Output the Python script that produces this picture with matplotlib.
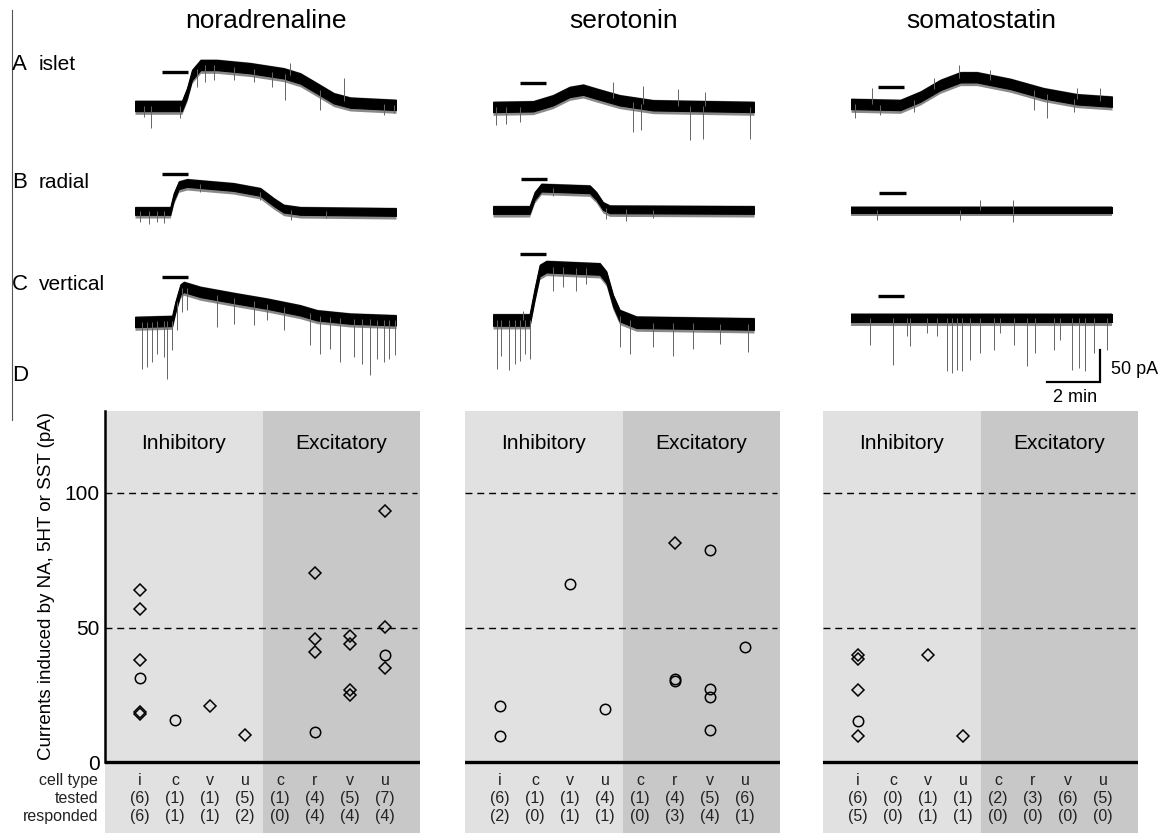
import numpy as np
import matplotlib
matplotlib.use("Agg")
import matplotlib.pyplot as plt

plt.rcParams['font.family'] = ['Liberation Sans', 'DejaVu Sans']

# ---------------- data: traces (time in min, current in pA) ----------------
drugs = ["noradrenaline", "serotonin", "somatostatin"]
rows = ["islet", "radial", "vertical"]
row_letters = ["A", "B", "C"]

na_islet_t = [0, 1.77, 1.96, 2.15, 2.47, 3.09, 4.35, 5.61, 6.24, 6.87, 7.50, 8.12, 9.85]
na_islet_i = [0, 0, 19.8, 48.4, 64, 64, 59, 51, 43, 27.6, 12, 5.2, 1.6]
na_islet_bar = [1.02, 1.99, 53.6]
na_islet_spk_t = [0.60, 0.33, 1.71, 2.34, 2.65, 2.97, 3.72, 4.48, 5.17, 5.67, 6.99, 7.87, 5.86, 9.38, 9.76]
na_islet_spk_i = [-33.9, -16.7, -19.3, 30.2, 38, 40.6, 40.6, 38, 30.2, 9.4, -6.3, 43.2, 66.7, -14, -11.5]

na_radial_t = [0, 1.33, 1.46, 1.65, 1.96, 3.72, 4.73, 5.23, 5.61, 6.24, 9.85]
na_radial_i = [1.6, 1.6, 23.4, 41.7, 45.3, 39, 31.3, 15.6, 5.2, 1.6, 0]
na_radial_bar = [1.02, 1.99, 58.9]
na_radial_spk_t = [0.20, 0.52, 0.83, 1.08, 2.47, 4.73, 5.90, 7.20]
na_radial_spk_i = [-15.6, -18.2, -15.6, -17.2, 31, 18, -12, -10]

na_vert_t = [0, 1.40, 1.52, 1.71, 1.84, 2.47, 3.72, 4.98, 6.23, 6.87, 8.12, 9.85]
na_vert_i = [0, 1.6, 23.4, 50.5, 54.7, 46.9, 37.5, 28.6, 18.2, 10.4, 5.2, 2.6]
na_vert_bar = [1.02, 1.99, 70.3]
na_vert_spk_t = [0.26, 0.45, 0.64, 0.83, 1.08, 1.21, 1.40, 1.58, 1.77, 1.96, 3.09, 3.72,
                 4.48, 4.98, 5.61, 6.62, 6.99, 7.37, 7.75, 8.25, 8.57, 8.88, 9.13, 9.38, 9.57, 9.82]
na_vert_spk_i = [-72.9, -70.3, -62.5, -49.5, -54.7, -88.5, -44.3, -13, 15.6, 18.2, -7.8, -2.6,
                 -5.2, 2.6, -13, -36.5, -49.5, -41.7, -62.5, -54.7, -65, -83.3, -57.3, -62.5, -57.3, -52]

ht_islet_t = [0, 1.51, 2.26, 2.89, 3.40, 3.90, 4.78, 6.04, 9.85]
ht_islet_i = [0, 1, 10.4, 23.4, 27, 20.8, 10.4, 2.6, 0]
ht_islet_bar = [1.01, 2.01, 38]
ht_islet_spk_t = [0.13, 0.50, 1.01, 5.28, 5.60, 7.42, 7.92, 9.69, 4.53, 5.66, 6.98, 7.99]
ht_islet_spk_i = [-28.6, -26, -23.4, -39, -36.5, -51, -49.5, -49.5, 39, 32.3, 28.6, 23.4]

ht_radial_t = [0, 1.38, 1.57, 1.82, 3.65, 3.90, 4.15, 4.40, 9.85]
ht_radial_i = [0, 0, 21.9, 34.9, 32.3, 21.9, 6.25, 1, 0]
ht_radial_bar = [1.07, 2.05, 47.9]
ht_radial_spk_t = [4.28, 5.03, 2.26, 6.04]
ht_radial_spk_i = [-14.6, -17.2, 22, -12]

ht_vert_t = [0, 1.38, 1.57, 1.76, 2.01, 4.03, 4.28, 4.53, 4.78, 5.41, 9.85]
ht_vert_i = [0, 0, 40.6, 77.1, 83.3, 79.7, 66.7, 30.2, 6.8, -3.6, -6.25]
ht_vert_bar = [1.01, 2.01, 103]
ht_vert_spk_t = [0.15, 0.31, 0.60, 0.82, 1.01, 1.19, 1.38, 2.26, 2.64, 3.14, 3.52,
                 4.78, 5.16, 6.04, 6.79, 7.55, 8.55, 9.62, 1.13]
ht_vert_spk_i = [-76.6, -55.7, -78, -68.8, -63.5, -53, -61, 45.8, 51, 45.8, 56,
                 -42.7, -53, -42.7, -55.7, -45.3, -37.5, -50.5, 14.6]

sst_islet_t = [0, 1.86, 2.62, 3.37, 4.13, 4.75, 6.01, 7.27, 8.53, 9.85]
sst_islet_i = [0, -1.6, 11.5, 29.7, 41.7, 41.7, 31.3, 16.7, 7.3, 3.6]
sst_islet_bar = [1.02, 2.01, 27]
sst_islet_spk_t = [0.16, 1.11, 2.36, 6.89, 7.40, 8.40, 0.79, 3.12, 4.06, 5.26, 8.53, 9.41]
sst_islet_spk_i = [-22.4, -17, -12, -9.4, -22.4, -12, 24.5, 40, 61, 53, 24.5, 24.5]

sst_radial_t = [0, 9.85]
sst_radial_i = [0, 0]
sst_radial_bar = [1.07, 2.08, 26]
sst_radial_spk_t = [4.88, 6.10, 6.10, 0.98, 4.13]
sst_radial_spk_i = [15.6, 15.6, -18, -15.6, -15.6]

sst_vert_t = [0, 9.85]
sst_vert_i = [0, 0]
sst_vert_bar = [1.02, 2.01, 34.9]
sst_vert_spk_t = [0.70, 1.57, 2.24, 3.62, 3.81, 4.00, 4.19, 4.50, 4.88, 5.38, 6.14, 6.64, 6.96,
                  7.65, 8.34, 8.59, 8.84, 9.16, 9.66, 2.11, 2.87, 3.25, 5.63, 7.90]
sst_vert_spk_i = [-41.7, -72.9, -44.3, -83.3, -85.9, -80.7, -83.3, -65, -54.7, -49.5, -41.7, -75.5, -54.7,
                  -49.5, -80.7, -78, -83.3, -54.7, -49.5, -28.6, -23.4, -28.6, -23.4, -34]

scale_pA = 50
scale_min = 2

# ---------------- data: summary panels ----------------
cell_types = ["i", "c", "v", "u", "c", "r", "v", "u"]
groups = ["Inhibitory", "Excitatory"]

na_tested = [6, 1, 1, 5, 1, 4, 5, 7]
na_responded = [6, 1, 1, 2, 0, 4, 4, 4]
na_diamond_x = [1, 1, 1, 1, 1, 3, 4, 6, 6, 6, 7, 7, 7, 7, 8, 8, 8]
na_diamond_y = [64, 57, 38, 18.6, 18, 20.8, 9.9, 70.3, 45.8, 40.9, 47, 44, 26.9, 24.9, 93.2, 50.2, 34.9]
na_circle_x = [1, 2, 6, 8]
na_circle_y = [31.3, 15.5, 11, 39.9]

ht_tested = [6, 1, 1, 4, 1, 4, 5, 6]
ht_responded = [2, 0, 1, 1, 0, 3, 4, 1]
ht_diamond_x = [6]
ht_diamond_y = [81.4]
ht_circle_x = [1, 1, 3, 4, 6, 6, 7, 7, 7, 7, 8]
ht_circle_y = [20.9, 9.8, 66, 19.8, 31, 30, 78.9, 27.1, 24.2, 11.8, 42.7]

sst_tested = [6, 0, 1, 1, 2, 3, 6, 5]
sst_responded = [5, 0, 1, 1, 0, 0, 0, 0]
sst_diamond_x = [1, 1, 1, 1, 3, 4]
sst_diamond_y = [39.7, 38.4, 26.9, 9.7, 39.7, 9.5]
sst_circle_x = [1]
sst_circle_y = [15.1]

y_ticks = [0, 50, 100]
ylabel = "Currents induced by NA, 5HT or SST (pA)"

# ---------------- layout ----------------
W, H = 1163, 833
fig = plt.figure(figsize=(W / 100, H / 100), dpi=100)


def ax_px(x0, y0, w, h):
    return fig.add_axes([x0 / W, 1 - (y0 + h) / H, w / W, h / H])


traces = {
    (0, 0): (na_islet_t, na_islet_i, na_islet_bar, na_islet_spk_t, na_islet_spk_i, 8),
    (0, 1): (na_radial_t, na_radial_i, na_radial_bar, na_radial_spk_t, na_radial_spk_i, 6),
    (0, 2): (na_vert_t, na_vert_i, na_vert_bar, na_vert_spk_t, na_vert_spk_i, 8),
    (1, 0): (ht_islet_t, ht_islet_i, ht_islet_bar, ht_islet_spk_t, ht_islet_spk_i, 8),
    (1, 1): (ht_radial_t, ht_radial_i, ht_radial_bar, ht_radial_spk_t, ht_radial_spk_i, 6),
    (1, 2): (ht_vert_t, ht_vert_i, ht_vert_bar, ht_vert_spk_t, ht_vert_spk_i, 9),
    (2, 0): (sst_islet_t, sst_islet_i, sst_islet_bar, sst_islet_spk_t, sst_islet_spk_i, 8),
    (2, 1): (sst_radial_t, sst_radial_i, sst_radial_bar, sst_radial_spk_t, sst_radial_spk_i, 5),
    (2, 2): (sst_vert_t, sst_vert_i, sst_vert_bar, sst_vert_spk_t, sst_vert_spk_i, 7),
}

col_left = [135, 493, 851]
baselines = [[106, 212, 322], [107, 210, 320], [104, 210, 318]]
px_per_min = 26.5
px_per_pA = 0.64
t_max = 9.85
ylo, yhi = -110, 110

trace_axes = {}
for (c, r), (t, cur, bar, st, si, hw) in traces.items():
    b = baselines[c][r]
    ax = ax_px(col_left[c], b - yhi * px_per_pA, t_max * px_per_min, (yhi - ylo) * px_per_pA)
    ax.set_xlim(0, t_max)
    ax.set_ylim(ylo, yhi)
    ax.axis("off")
    t = np.asarray(t, float)
    cur = np.asarray(cur, float)
    for ts, tip in zip(st, si):
        base = np.interp(ts, t, cur)
        if tip < base:
            ax.vlines(ts, tip, base, color="#666666", lw=0.7)
        else:
            ax.vlines(ts, base, tip, color="#666666", lw=0.7)
    # gray fringe of small noise events around the black band
    ax.fill_between(t, cur - hw - 5, cur + hw + 1.5, color="#8a8a8a", lw=0)
    ax.fill_between(t, cur - hw, cur + hw, color="black", lw=0.8, edgecolor="black")
    ax.plot([bar[0], bar[1]], [bar[2], bar[2]], color="black", lw=2.4, solid_capstyle="butt")
    trace_axes[(c, r)] = ax

# scale bar on last trace
sax = trace_axes[(2, 2)]
x_sb = 9.40
y_sb = -100
sax.plot([x_sb - scale_min, x_sb, x_sb], [y_sb, y_sb, y_sb + scale_pA], color="black", lw=1.6,
         clip_on=False, solid_joinstyle="miter")
sax.text(x_sb + 0.42, y_sb + scale_pA * 0.38, f"{scale_pA} pA", fontsize=13, ha="left", va="center")
sax.text(x_sb - scale_min / 2 + 0.05, y_sb - 25, f"{scale_min} min", fontsize=13, ha="center", va="center")

# column titles
for c, name in enumerate(drugs):
    fig.text((col_left[c] + t_max * px_per_min / 2) / W, 1 - 21 / H, name, fontsize=19,
             ha="center", va="center")

# row labels
row_y = [65, 183, 285]
for r in range(3):
    fig.text(12 / W, 1 - row_y[r] / H, row_letters[r], fontsize=16, ha="left", va="center")
    fig.text(39 / W, 1 - row_y[r] / H, rows[r], fontsize=15, ha="left", va="center")
fig.text(12 / W, 1 - 375 / H, "D", fontsize=16, ha="left", va="center")
fig.add_artist(plt.Line2D([11.5 / W, 11.5 / W], [1 - 10 / H, 1 - 420 / H], color="#555555", lw=0.8))

# ---------------- summary panels ----------------
panels = [
    (na_diamond_x, na_diamond_y, na_circle_x, na_circle_y, na_tested, na_responded),
    (ht_diamond_x, ht_diamond_y, ht_circle_x, ht_circle_y, ht_tested, ht_responded),
    (sst_diamond_x, sst_diamond_y, sst_circle_x, sst_circle_y, sst_tested, sst_responded),
]
panel_left = [105, 465, 823]
panel_w = 315
top_px, zero_px, bottom_px = 411, 762, 833
px_per_unit = (zero_px - 493) / 100.0
ymax = (zero_px - top_px) / px_per_unit
ymin = -(bottom_px - zero_px) / px_per_unit
light, dark = "#e1e1e1", "#c8c8c8"

for p, (dx, dy, cx, cy, tested, resp) in enumerate(panels):
    ax = ax_px(panel_left[p], top_px, panel_w, bottom_px - top_px)
    ax.set_xlim(0, 9)
    ax.set_ylim(ymin, ymax)
    ax.axvspan(0, 4.5, color=light, lw=0)
    ax.axvspan(4.5, 9, color=dark, lw=0)
    for v in (50, 100):
        ax.axhline(v, xmin=0, xmax=0.99, color="black", lw=1.0, dashes=(5, 3.5))
    ax.axhline(0, color="black", lw=2.4)
    ax.plot(dx, dy, linestyle="none", marker="D", ms=6, mfc="none", mec="black", mew=1.1)
    ax.plot(cx, cy, linestyle="none", marker="o", ms=7.5, mfc="none", mec="black", mew=1.1)
    ax.text(2.25, ymax - 12, groups[0], fontsize=15, ha="center", va="center")
    ax.text(6.75, ymax - 12, groups[1], fontsize=15, ha="center", va="center")
    for k, ct in enumerate(cell_types):
        xk = k + 1
        ax.text(xk, -6.7, ct, fontsize=11.5, ha="center", va="center", color="#222222")
        ax.text(xk, -13.4, f"({tested[k]})", fontsize=11.5, ha="center", va="center", color="#222222")
        ax.text(xk, -20.4, f"({resp[k]})", fontsize=11.5, ha="center", va="center", color="#222222")
    for s in ("top", "right", "bottom"):
        ax.spines[s].set_visible(False)
    ax.set_xticks([])
    if p == 0:
        ax.spines["left"].set_bounds(0, ymax)
        ax.spines["left"].set_linewidth(1.8)
        ax.set_yticks(y_ticks)
        ax.set_yticklabels([str(v) for v in y_ticks], fontsize=15)
        ax.tick_params(axis="y", length=0, pad=4)
        ax.set_ylabel(ylabel, fontsize=13.5)
        ax.yaxis.set_label_coords(-0.19, (-ymin + ymax / 2) / (ymax - ymin))
        ax.yaxis.label.set_va("center")
        ax.yaxis.set_label_coords(-0.185, (-ymin + ymax / 2) / (ymax - ymin))
        for lbl, yy in zip(["cell type", "tested", "responded"], [-6.7, -13.4, -20.4]):
            ax.text(-0.2, yy, lbl, fontsize=11.5, ha="right", va="center", color="#222222")
    else:
        ax.spines["left"].set_visible(False)
        ax.set_yticks([])

fig.savefig("out.png", dpi=100)
